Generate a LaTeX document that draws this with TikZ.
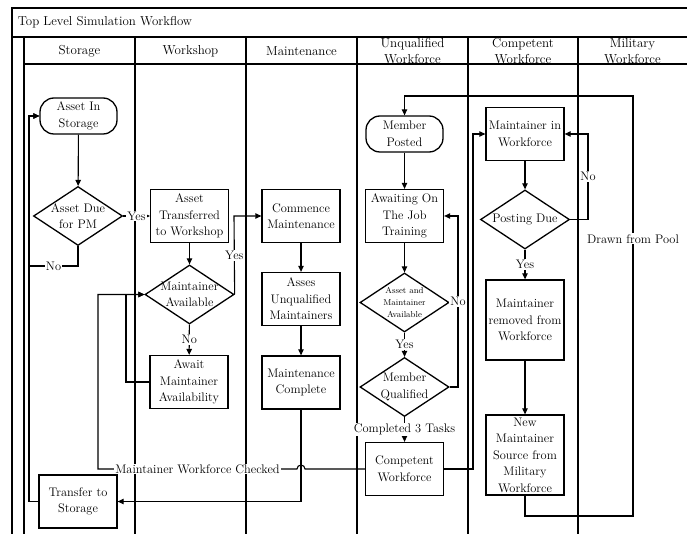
\documentclass[tikz,border=0pt]{standalone}
\usetikzlibrary{shapes.geometric,arrows.meta}
\begin{document}
\begin{tikzpicture}[x=1pt,y=-1pt,line width=1.1pt,
	>={Triangle[length=6pt,width=5.5pt]},
	every node/.style={font=\fontsize{12.4}{16.5}\selectfont},
	head/.style={font=\fontsize{13}{16}\selectfont,align=center},
	box/.style={draw,rectangle,line width=1.3pt,minimum width=78pt,minimum height=53pt,inner sep=1pt,align=center},
	terminal/.style={draw,rectangle,line width=1.3pt,rounded corners=14pt,minimum width=77pt,minimum height=36pt,inner sep=1pt,align=center},
	decision/.style={draw,diamond,line width=1.3pt,aspect=1.5,inner sep=-3pt,minimum width=89pt,minimum height=59pt,align=center},
	lbl/.style={fill=white,inner sep=1pt}]
	\clip (0,0) rectangle (687,534);
	\draw [line width=1.3pt] (700,8) -- (12,8) -- (12,540);
	\draw [line width=1.3pt] (12,37) -- (700,37);
	\draw (24,64) -- (700,64);
	\foreach \x in {24,135,246,357,468,578} \draw (\x,37) -- (\x,540);
	\node [anchor=west,font=\fontsize{12.9}{16}\selectfont] (title) at (14,22.5) {Top Level Simulation Workflow};
	\node [head] (hstorage) at (79.5,51) {Storage};
	\node [head] (hworkshop) at (190.5,51) {Workshop};
	\node [head] (hmaint) at (301.5,51) {Maintenance};
	\node [head] (hunqual) at (412.5,51) {Unqualified\\Workforce};
	\node [head] (hcompetent) at (523,51) {Competent\\Workforce};
	\node [head] (hmilitary) at (632.5,51) {Military\\Workforce};
	\node [terminal] (instore) at (78.5,116) {Asset In\\Storage};
	\node [decision] (duepm) at (78,216) {Asset Due\\for PM};
	\node [box] (toshop) at (189.5,216) {Asset\\Transferred\\to Workshop};
	\node [decision] (mavail) at (189.5,294.5) {Maintainer\\Available};
	\node [box] (await) at (189,382) {Await\\Maintainer\\Availability};
	\node [box] (tostore) at (78,501.5) {Transfer to\\Storage};
	\node [box] (commence) at (301,216) {Commence\\Maintenance};
	\node [box] (asses) at (301,299) {Asses\\Unqualified\\Maintainers};
	\node [box] (mcomplete) at (301,382.5) {Maintenance\\Complete};
	\node [terminal] (posted) at (404.5,134) {Member\\Posted};
	\node [box] (ojt) at (404.5,216) {Awaiting On\\The Job\\Training};
	\node [decision,font=\fontsize{8.6}{12}\selectfont] (avail) at (404.5,302.5) {Asset and\\Maintainer\\Available};
	\node [decision] (qualified) at (404.5,387) {Member\\Qualified};
	\node [box] (competent) at (404.5,469) {Competent\\Workforce};
	\node [box] (inforce) at (525,134) {Maintainer in\\Workforce};
	\node [decision] (posting) at (525,219.5) {Posting Due};
	\node [box,minimum height=80pt] (removed) at (525,320) {Maintainer\\removed from\\Workforce};
	\node [box,minimum height=80pt] (newsrc) at (525,455) {New\\Maintainer\\Source from\\Military\\Workforce};
	\draw [->] (instore) -- (duepm);
	\draw [->] (duepm) -- node [lbl] {Yes} (toshop);
	\draw [->] (duepm.south) -- (78,266) -- node [lbl] {No} (29,266) -- (29,116) -- (instore.west);
	\draw [->] (toshop) -- (mavail);
	\draw [->] (mavail.east) -- node [lbl] {Yes} (234,216) -- (commence.west);
	\draw [->] (mavail) -- node [lbl] {No} (await);
	\draw [->] (await.west) -- (126,382) -- (126,294.5) -- (mavail.west);
	\draw [->] (competent.west) -- (305,469) arc [start angle=0,end angle=180,radius=4pt] -- node [lbl] {Maintainer Workforce Checked} (98,469) -- (98,294.5) -- (mavail.west);
	\draw [->] (commence) -- (asses);
	\draw [->] (asses) -- (mcomplete);
	\draw [->] (mcomplete.south) -- (301,501.5) -- (tostore.east);
	\draw [->] (tostore.west) -- (29,501.5) -- (29,116) -- (instore.west);
	\draw [->] (posted) -- (ojt);
	\draw [->] (ojt) -- (avail);
	\draw [->] (avail) -- node [lbl] {Yes} (qualified);
	\draw [->] (qualified) -- node [lbl] {Completed 3 Tasks} (competent);
	\draw [->] (qualified.east) -- (458,387) -- node [lbl] {No} (458,216) -- (ojt.east);
	\draw [->] (competent.east) -- (473,469) -- (473,134) -- (inforce.west);
	\draw [->] (inforce) -- (posting);
	\draw [->] (posting.east) -- (588,219.5) -- node [lbl] {No} (588,134) -- (inforce.east);
	\draw [->] (posting) -- node [lbl] {Yes} (removed);
	\draw [->] (removed) -- (newsrc);
	\draw [->] (newsrc.south) -- (525,516) -- (633,516) -- node [lbl,pos=0.66] {Drawn from Pool} (633,96) -- (404.5,96) -- (posted.north);
\end{tikzpicture}
\end{document}
